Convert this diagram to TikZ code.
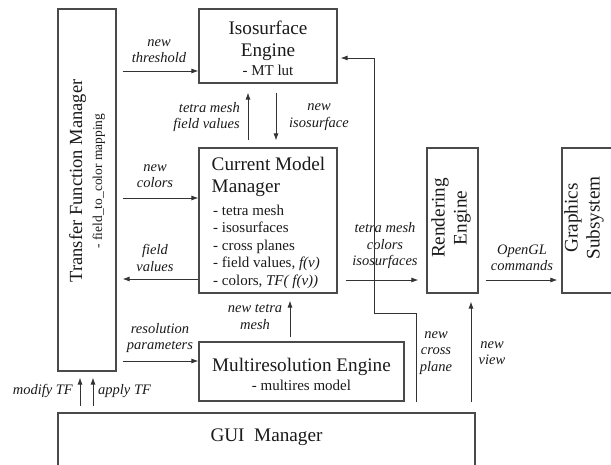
\documentclass[tikz,border=0pt]{standalone}
\usepackage{fontspec}
\setmainfont{Liberation Serif}
\usetikzlibrary{arrows.meta,calc}
\definecolor{boxc}{HTML}{4A4A4A}
\definecolor{linec}{HTML}{333333}
\definecolor{txtc}{HTML}{1A1A1A}
\begin{document}
\begin{tikzpicture}[x=1pt,y=-1pt,
  box/.style={draw=boxc, line width=1.1pt, inner sep=0pt, rectangle},
  arr/.style={draw=linec, line width=0.9pt, -{Latex[length=7pt,width=5pt]}},
  lbl/.style={font=\fontsize{14.5}{16.5}\selectfont\itshape, align=center, inner sep=0pt, text=txtc},
  ttl/.style={font=\fontsize{19.2}{22}\selectfont, align=center, inner sep=0pt, text=txtc},
  itm/.style={font=\fontsize{15}{17.5}\selectfont, align=left, inner sep=0pt, text=txtc}
]
\useasboundingbox (0,0) rectangle (611,464);
\clip (0,0) rectangle (611,464);

% boxes
\node[box, minimum width=58pt, minimum height=362pt] (tfm) at (87,190) {};
\node[box, minimum width=138pt, minimum height=74pt] (iso) at (268,46) {};
\node[box, minimum width=138pt, minimum height=145pt] (cmm) at (268,220.5) {};
\node[box, minimum width=51pt, minimum height=145pt] (re) at (452.5,220.5) {};
\node[box, minimum width=78pt, minimum height=145pt] (gs) at (601,220.5) {};
\node[box, minimum width=205pt, minimum height=59pt] (me) at (301.5,371.5) {};
\node[box, minimum width=417pt, minimum height=87pt] (gui) at (266.5,456.5) {};

% box texts
\node[ttl, rotate=90, font=\fontsize{18.5}{22}\selectfont] (tfmT) at (87,181) {Transfer Function Manager\\[-2pt]\fontsize{13.5}{15}\selectfont - field\_to\_color mapping};
\node[ttl] (isoT) at (268,48) {Isosurface\\Engine\\[-3pt]\fontsize{15}{17}\selectfont - MT lut};
\node[ttl, anchor=north west, align=left] (cmmT) at (211.5,157) {Current Model\\Manager};
\node[itm, anchor=north west] (cmmI) at (213,204.5) {- tetra mesh\\- isosurfaces\\- cross planes\\- field values, \textit{f(v)}\\- colors, \textit{TF( f(v))}};
\node[ttl, rotate=90] (reT) at (451,218) {Rendering\\Engine};
\node[ttl, rotate=90] (gsT) at (584,218) {Graphics\\Subsystem};
\node[ttl] (meT) at (301.5,374) {Multiresolution Engine\\[-3pt]\fontsize{15}{17}\selectfont - multires model};
\node[ttl] (guiT) at (266.5,437) {GUI\ \ Manager};

% connectors
\draw[arr] ([xshift=6pt]tfm.east |- 0,71) -- (iso.west |- 0,71);
\node[lbl] (l1) at (159,51) {new\\threshold};

\draw[arr] ([yshift=7pt]cmm.north -| 248,0) -- ([yshift=-9pt]iso.south -| 248,0);
\node[lbl, align=right, anchor=east] (l2) at (240,117) {tetra mesh\\field values};

\draw[arr] ([yshift=-9pt]iso.south -| 276,0) -- ([yshift=7pt]cmm.north -| 276,0);
\node[lbl] (l3) at (319,117) {new\\isosurface};

\draw[arr] ([xshift=6pt]tfm.east |- 0,198) -- (cmm.west |- 0,198);
\node[lbl] (l4) at (155,176) {new\\colors};

\draw[arr] (cmm.west |- 0,279) -- ([xshift=6pt]tfm.east |- 0,279);
\node[lbl] (l5) at (155,258) {field\\values};

\draw[arr] ([xshift=8pt]cmm.east |- 0,280) -- ([xshift=-8pt]re.west |- 0,280);
\node[lbl] (l6) at (385,246) {tetra mesh\\colors\\isosurfaces};

\draw[arr] ([xshift=7pt]re.east |- 0,280) -- ([xshift=-4pt]gs.west |- 0,280);
\node[lbl] (l7) at (522,258) {OpenGL\\commands};

\coordinate (cp0) at ([yshift=10pt]gui.north -| 416,0);
\draw[arr] (cp0) |- (374,313) |- ([xshift=3pt]iso.east |- 0,58);
\node[lbl] (l8) at (436,353) {new\\cross\\plane};

\draw[arr] ([yshift=10pt]gui.north -| 471,0) -- ([yshift=-8pt]re.south -| 471,0);
\node[lbl] (l9) at (492,353) {new\\view};

\draw[arr] ([yshift=4pt]me.north -| 290,0) -- ([yshift=-7pt]cmm.south -| 290,0);
\node[lbl] (l10) at (255,317) {new tetra\\mesh};

\draw[arr] ([xshift=6pt]tfm.east |- 0,361) -- (me.west |- 0,361);
\node[lbl] (l11) at (160,338) {resolution\\parameters};

\draw[arr] ([yshift=6pt]gui.north -| 80,0) -- ([yshift=-6pt]tfm.south -| 80,0);
\node[lbl, anchor=east] (l12) at (73,391) {modify TF};
\draw[arr] ([yshift=6pt]gui.north -| 93,0) -- ([yshift=-6pt]tfm.south -| 93,0);
\node[lbl, anchor=west] (l13) at (98,391) {apply TF};
\end{tikzpicture}
\end{document}
